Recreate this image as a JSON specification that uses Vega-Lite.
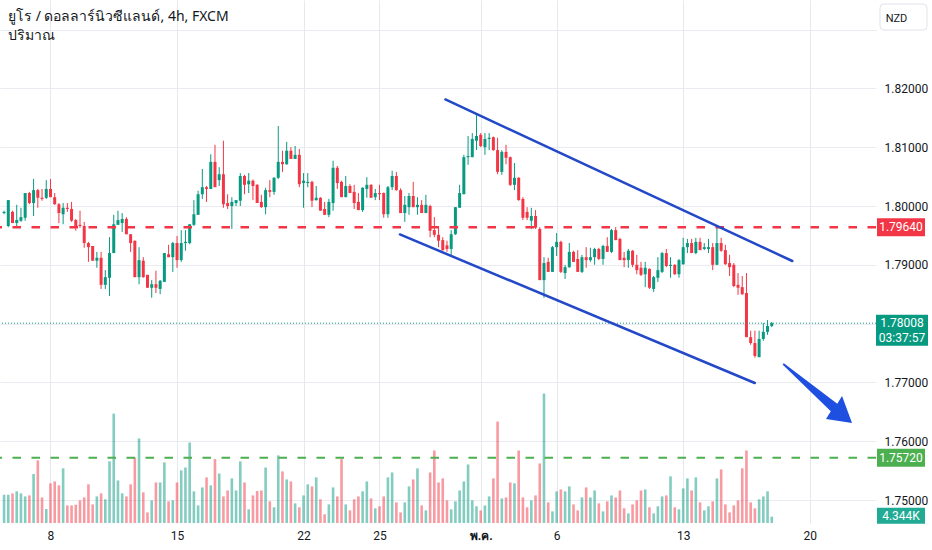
{
  "$schema": "https://vega.github.io/schema/vega-lite/v6.json",
  "width": 876,
  "height": 523,
  "autosize": "none",
  "padding": {"left": 0, "top": 0, "right": 56, "bottom": 27},
  "background": "white",
  "view": {"stroke": null},
  "config": {"font": "Roboto"},
  "title": {
    "text": "ยูโร / ดอลลาร์นิวซีแลนด์, 4h, FXCM",
    "subtitle": "ปริมาณ",
    "anchor": "start",
    "frame": "group",
    "orient": "top",
    "offset": -43,
    "dx": 8,
    "font": "Noto Sans",
    "fontSize": 14,
    "fontWeight": "normal",
    "color": "#131722",
    "subtitleFont": "Noto Sans",
    "subtitleFontSize": 14,
    "subtitleColor": "#131722",
    "subtitlePadding": 5
  },
  "datasets": {
    "candles": [
      {"i":0,"o":1.7988,"h":1.7992,"l":1.7986,"c":1.7990,"v":19500},
      {"i":1,"o":1.7966,"h":1.8010,"l":1.7964,"c":1.8010,"v":19500},
      {"i":2,"o":1.7990,"h":1.7992,"l":1.7971,"c":1.7971,"v":20400},
      {"i":3,"o":1.7971,"h":1.8002,"l":1.7963,"c":1.7976,"v":21800},
      {"i":4,"o":1.7975,"h":1.7997,"l":1.7973,"c":1.7981,"v":20400},
      {"i":5,"o":1.7980,"h":1.8022,"l":1.7975,"c":1.8022,"v":18300},
      {"i":6,"o":1.8022,"h":1.8024,"l":1.8003,"c":1.8005,"v":19000},
      {"i":7,"o":1.8005,"h":1.8046,"l":1.7983,"c":1.8027,"v":33700},
      {"i":8,"o":1.8027,"h":1.8029,"l":1.7997,"c":1.8014,"v":43100},
      {"i":9,"o":1.8014,"h":1.8029,"l":1.8009,"c":1.8012,"v":17600},
      {"i":10,"o":1.8014,"h":1.8044,"l":1.8012,"c":1.8029,"v":9600},
      {"i":11,"o":1.8029,"h":1.8046,"l":1.8015,"c":1.8015,"v":27300},
      {"i":12,"o":1.8015,"h":1.8022,"l":1.8002,"c":1.8003,"v":28600},
      {"i":13,"o":1.8003,"h":1.8005,"l":1.7971,"c":1.7988,"v":25900},
      {"i":14,"o":1.7986,"h":1.8005,"l":1.7969,"c":1.7997,"v":37600},
      {"i":15,"o":1.7997,"h":1.8005,"l":1.7990,"c":1.7995,"v":12100},
      {"i":16,"o":1.7995,"h":1.8007,"l":1.7973,"c":1.7975,"v":12100},
      {"i":17,"o":1.7976,"h":1.7978,"l":1.7958,"c":1.7966,"v":12600},
      {"i":18,"o":1.7968,"h":1.7992,"l":1.7963,"c":1.7966,"v":15600},
      {"i":19,"o":1.7966,"h":1.7973,"l":1.7929,"c":1.7937,"v":17600},
      {"i":20,"o":1.7937,"h":1.7939,"l":1.7905,"c":1.7930,"v":26600},
      {"i":21,"o":1.7932,"h":1.7932,"l":1.7907,"c":1.7907,"v":12800},
      {"i":22,"o":1.7907,"h":1.7922,"l":1.7895,"c":1.7912,"v":18300},
      {"i":23,"o":1.7912,"h":1.7922,"l":1.7859,"c":1.7866,"v":20400},
      {"i":24,"o":1.7866,"h":1.7891,"l":1.7859,"c":1.7879,"v":16300},
      {"i":25,"o":1.7878,"h":1.7947,"l":1.7847,"c":1.7920,"v":42400},
      {"i":26,"o":1.7920,"h":1.7985,"l":1.7920,"c":1.7969,"v":75300},
      {"i":27,"o":1.7968,"h":1.7992,"l":1.7968,"c":1.7976,"v":29300},
      {"i":28,"o":1.7971,"h":1.7988,"l":1.7956,"c":1.7978,"v":20400},
      {"i":29,"o":1.7978,"h":1.7981,"l":1.7952,"c":1.7952,"v":18300},
      {"i":30,"o":1.7952,"h":1.7952,"l":1.7922,"c":1.7937,"v":26600},
      {"i":31,"o":1.7941,"h":1.7941,"l":1.7879,"c":1.7879,"v":45100},
      {"i":32,"o":1.7879,"h":1.7930,"l":1.7867,"c":1.7908,"v":58200},
      {"i":33,"o":1.7907,"h":1.7913,"l":1.7878,"c":1.7879,"v":21100},
      {"i":34,"o":1.7883,"h":1.7883,"l":1.7861,"c":1.7861,"v":7300},
      {"i":35,"o":1.7861,"h":1.7874,"l":1.7844,"c":1.7867,"v":15600},
      {"i":36,"o":1.7867,"h":1.7890,"l":1.7852,"c":1.7861,"v":27900},
      {"i":37,"o":1.7859,"h":1.7874,"l":1.7850,"c":1.7873,"v":27900},
      {"i":38,"o":1.7871,"h":1.7920,"l":1.7871,"c":1.7920,"v":41700},
      {"i":39,"o":1.7918,"h":1.7934,"l":1.7913,"c":1.7913,"v":14900},
      {"i":40,"o":1.7913,"h":1.7939,"l":1.7888,"c":1.7937,"v":15600},
      {"i":41,"o":1.7937,"h":1.7949,"l":1.7895,"c":1.7908,"v":27900},
      {"i":42,"o":1.7908,"h":1.7959,"l":1.7905,"c":1.7937,"v":36200},
      {"i":43,"o":1.7937,"h":1.7959,"l":1.7924,"c":1.7939,"v":38200},
      {"i":44,"o":1.7937,"h":1.7969,"l":1.7935,"c":1.7969,"v":55400},
      {"i":45,"o":1.7968,"h":1.8010,"l":1.7966,"c":1.7986,"v":21800},
      {"i":46,"o":1.7985,"h":1.8026,"l":1.7985,"c":1.8020,"v":12100},
      {"i":47,"o":1.8020,"h":1.8063,"l":1.8012,"c":1.8032,"v":24500},
      {"i":48,"o":1.8032,"h":1.8034,"l":1.8007,"c":1.8029,"v":31400},
      {"i":49,"o":1.8029,"h":1.8088,"l":1.8029,"c":1.8075,"v":25900},
      {"i":50,"o":1.8075,"h":1.8104,"l":1.8032,"c":1.8032,"v":44000},
      {"i":51,"o":1.8044,"h":1.8066,"l":1.8034,"c":1.8054,"v":34100},
      {"i":52,"o":1.8054,"h":1.8111,"l":1.7997,"c":1.8003,"v":18300},
      {"i":53,"o":1.8005,"h":1.8020,"l":1.7995,"c":1.8000,"v":22400},
      {"i":54,"o":1.8000,"h":1.8015,"l":1.7961,"c":1.8007,"v":30700},
      {"i":55,"o":1.8005,"h":1.8010,"l":1.8000,"c":1.8010,"v":22400},
      {"i":56,"o":1.8009,"h":1.8056,"l":1.8000,"c":1.8051,"v":42400},
      {"i":57,"o":1.8051,"h":1.8053,"l":1.8020,"c":1.8036,"v":27900},
      {"i":58,"o":1.8037,"h":1.8056,"l":1.8022,"c":1.8043,"v":9400},
      {"i":59,"o":1.8043,"h":1.8045,"l":1.8010,"c":1.8034,"v":19000},
      {"i":60,"o":1.8036,"h":1.8037,"l":1.8005,"c":1.8005,"v":22000},
      {"i":61,"o":1.8007,"h":1.8019,"l":1.7997,"c":1.7998,"v":22400},
      {"i":62,"o":1.7998,"h":1.8031,"l":1.7986,"c":1.8027,"v":38200},
      {"i":63,"o":1.8027,"h":1.8044,"l":1.8015,"c":1.8024,"v":14900},
      {"i":64,"o":1.8024,"h":1.8049,"l":1.8019,"c":1.8048,"v":10800},
      {"i":65,"o":1.8048,"h":1.8136,"l":1.8046,"c":1.8075,"v":46500},
      {"i":66,"o":1.8075,"h":1.8094,"l":1.8058,"c":1.8071,"v":35500},
      {"i":67,"o":1.8071,"h":1.8109,"l":1.8070,"c":1.8094,"v":30000},
      {"i":68,"o":1.8094,"h":1.8100,"l":1.8080,"c":1.8080,"v":28600},
      {"i":69,"o":1.8080,"h":1.8102,"l":1.8080,"c":1.8087,"v":13500},
      {"i":70,"o":1.8087,"h":1.8097,"l":1.8032,"c":1.8037,"v":10800},
      {"i":71,"o":1.8039,"h":1.8056,"l":1.7997,"c":1.8043,"v":19000},
      {"i":72,"o":1.8039,"h":1.8056,"l":1.8032,"c":1.8041,"v":26600},
      {"i":73,"o":1.8041,"h":1.8043,"l":1.7998,"c":1.8009,"v":25200},
      {"i":74,"o":1.8010,"h":1.8034,"l":1.8009,"c":1.8014,"v":31400},
      {"i":75,"o":1.8014,"h":1.8015,"l":1.7992,"c":1.7992,"v":16300},
      {"i":76,"o":1.7995,"h":1.8007,"l":1.7985,"c":1.7985,"v":6000},
      {"i":77,"o":1.7985,"h":1.8012,"l":1.7981,"c":1.8007,"v":12800},
      {"i":78,"o":1.8005,"h":1.8077,"l":1.7992,"c":1.8065,"v":24500},
      {"i":79,"o":1.8065,"h":1.8068,"l":1.8029,"c":1.8039,"v":18300},
      {"i":80,"o":1.8041,"h":1.8043,"l":1.8015,"c":1.8015,"v":44000},
      {"i":81,"o":1.8015,"h":1.8051,"l":1.8015,"c":1.8034,"v":12800},
      {"i":82,"o":1.8034,"h":1.8037,"l":1.8022,"c":1.8022,"v":8700},
      {"i":83,"o":1.8024,"h":1.8036,"l":1.7995,"c":1.8005,"v":16300},
      {"i":84,"o":1.8007,"h":1.8022,"l":1.7993,"c":1.7993,"v":18300},
      {"i":85,"o":1.7993,"h":1.8032,"l":1.7990,"c":1.8031,"v":21800},
      {"i":86,"o":1.8029,"h":1.8049,"l":1.8014,"c":1.8036,"v":28600},
      {"i":87,"o":1.8036,"h":1.8037,"l":1.8014,"c":1.8014,"v":16900},
      {"i":88,"o":1.8015,"h":1.8029,"l":1.8010,"c":1.8022,"v":10100},
      {"i":89,"o":1.8022,"h":1.8036,"l":1.8010,"c":1.8020,"v":11500},
      {"i":90,"o":1.8022,"h":1.8023,"l":1.7980,"c":1.7986,"v":18300},
      {"i":91,"o":1.7986,"h":1.8034,"l":1.7980,"c":1.8032,"v":31400},
      {"i":92,"o":1.8032,"h":1.8060,"l":1.8027,"c":1.8051,"v":34800},
      {"i":93,"o":1.8051,"h":1.8058,"l":1.8026,"c":1.8027,"v":14200},
      {"i":94,"o":1.8027,"h":1.8030,"l":1.7988,"c":1.7988,"v":7300},
      {"i":95,"o":1.7988,"h":1.8017,"l":1.7973,"c":1.8002,"v":14200},
      {"i":96,"o":1.7998,"h":1.8022,"l":1.7985,"c":1.8017,"v":25200},
      {"i":97,"o":1.8017,"h":1.8041,"l":1.7998,"c":1.7998,"v":30000},
      {"i":98,"o":1.7998,"h":1.8015,"l":1.7985,"c":1.8002,"v":37600},
      {"i":99,"o":1.8002,"h":1.8010,"l":1.7988,"c":1.7988,"v":12100},
      {"i":100,"o":1.7988,"h":1.8019,"l":1.7988,"c":1.8002,"v":8700},
      {"i":101,"o":1.8000,"h":1.8002,"l":1.7947,"c":1.7958,"v":34800},
      {"i":102,"o":1.7959,"h":1.7981,"l":1.7947,"c":1.7951,"v":49900},
      {"i":103,"o":1.7951,"h":1.7964,"l":1.7930,"c":1.7941,"v":27900},
      {"i":104,"o":1.7942,"h":1.7947,"l":1.7924,"c":1.7925,"v":30700},
      {"i":105,"o":1.7933,"h":1.7941,"l":1.7922,"c":1.7927,"v":15600},
      {"i":106,"o":1.7927,"h":1.7959,"l":1.7917,"c":1.7952,"v":9400},
      {"i":107,"o":1.7952,"h":1.7998,"l":1.7951,"c":1.7998,"v":14900},
      {"i":108,"o":1.7997,"h":1.8036,"l":1.7997,"c":1.8022,"v":22400},
      {"i":109,"o":1.8020,"h":1.8087,"l":1.8020,"c":1.8083,"v":28600},
      {"i":110,"o":1.8083,"h":1.8119,"l":1.8070,"c":1.8085,"v":40300},
      {"i":111,"o":1.8083,"h":1.8124,"l":1.8083,"c":1.8114,"v":15600},
      {"i":112,"o":1.8111,"h":1.8158,"l":1.8095,"c":1.8119,"v":11500},
      {"i":113,"o":1.8121,"h":1.8124,"l":1.8100,"c":1.8102,"v":8700},
      {"i":114,"o":1.8100,"h":1.8124,"l":1.8087,"c":1.8114,"v":12100},
      {"i":115,"o":1.8114,"h":1.8124,"l":1.8095,"c":1.8116,"v":18300},
      {"i":116,"o":1.8117,"h":1.8118,"l":1.8094,"c":1.8095,"v":30700},
      {"i":117,"o":1.8095,"h":1.8116,"l":1.8054,"c":1.8058,"v":69800},
      {"i":118,"o":1.8058,"h":1.8095,"l":1.8053,"c":1.8092,"v":16900},
      {"i":119,"o":1.8092,"h":1.8104,"l":1.8071,"c":1.8082,"v":17600},
      {"i":120,"o":1.8083,"h":1.8084,"l":1.8034,"c":1.8036,"v":27900},
      {"i":121,"o":1.8036,"h":1.8073,"l":1.8027,"c":1.8048,"v":27300},
      {"i":122,"o":1.8048,"h":1.8049,"l":1.8009,"c":1.8010,"v":49900},
      {"i":123,"o":1.8012,"h":1.8015,"l":1.7976,"c":1.7980,"v":17600},
      {"i":124,"o":1.7990,"h":1.7998,"l":1.7976,"c":1.7980,"v":10800},
      {"i":125,"o":1.7975,"h":1.7997,"l":1.7961,"c":1.7983,"v":15600},
      {"i":126,"o":1.7983,"h":1.7993,"l":1.7961,"c":1.7963,"v":19000},
      {"i":127,"o":1.7961,"h":1.7964,"l":1.7874,"c":1.7874,"v":41000},
      {"i":128,"o":1.7874,"h":1.7913,"l":1.7844,"c":1.7903,"v":89100},
      {"i":129,"o":1.7905,"h":1.7912,"l":1.7888,"c":1.7888,"v":14200},
      {"i":130,"o":1.7888,"h":1.7932,"l":1.7888,"c":1.7930,"v":8000},
      {"i":131,"o":1.7930,"h":1.7954,"l":1.7915,"c":1.7939,"v":21800},
      {"i":132,"o":1.7939,"h":1.7941,"l":1.7886,"c":1.7888,"v":23100},
      {"i":133,"o":1.7886,"h":1.7900,"l":1.7876,"c":1.7896,"v":21800},
      {"i":134,"o":1.7896,"h":1.7937,"l":1.7895,"c":1.7922,"v":25200},
      {"i":135,"o":1.7922,"h":1.7924,"l":1.7905,"c":1.7905,"v":12800},
      {"i":136,"o":1.7910,"h":1.7925,"l":1.7888,"c":1.7888,"v":8700},
      {"i":137,"o":1.7888,"h":1.7917,"l":1.7886,"c":1.7913,"v":17600},
      {"i":138,"o":1.7913,"h":1.7930,"l":1.7895,"c":1.7908,"v":24500},
      {"i":139,"o":1.7908,"h":1.7929,"l":1.7905,"c":1.7913,"v":17600},
      {"i":140,"o":1.7913,"h":1.7929,"l":1.7900,"c":1.7927,"v":22400},
      {"i":141,"o":1.7927,"h":1.7929,"l":1.7908,"c":1.7910,"v":13500},
      {"i":142,"o":1.7910,"h":1.7934,"l":1.7900,"c":1.7932,"v":8000},
      {"i":143,"o":1.7932,"h":1.7947,"l":1.7922,"c":1.7922,"v":14900},
      {"i":144,"o":1.7922,"h":1.7961,"l":1.7920,"c":1.7959,"v":19000},
      {"i":145,"o":1.7959,"h":1.7964,"l":1.7942,"c":1.7942,"v":17600},
      {"i":146,"o":1.7944,"h":1.7946,"l":1.7908,"c":1.7908,"v":22400},
      {"i":147,"o":1.7912,"h":1.7922,"l":1.7896,"c":1.7908,"v":10100},
      {"i":148,"o":1.7908,"h":1.7927,"l":1.7895,"c":1.7924,"v":6600},
      {"i":149,"o":1.7924,"h":1.7925,"l":1.7896,"c":1.7900,"v":12800},
      {"i":150,"o":1.7900,"h":1.7917,"l":1.7884,"c":1.7891,"v":15600},
      {"i":151,"o":1.7895,"h":1.7905,"l":1.7881,"c":1.7883,"v":22400},
      {"i":152,"o":1.7884,"h":1.7905,"l":1.7862,"c":1.7895,"v":23100},
      {"i":153,"o":1.7893,"h":1.7894,"l":1.7859,"c":1.7861,"v":10800},
      {"i":154,"o":1.7859,"h":1.7881,"l":1.7854,"c":1.7879,"v":6600},
      {"i":155,"o":1.7878,"h":1.7913,"l":1.7871,"c":1.7891,"v":11500},
      {"i":156,"o":1.7888,"h":1.7922,"l":1.7886,"c":1.7920,"v":18300},
      {"i":157,"o":1.7920,"h":1.7927,"l":1.7896,"c":1.7898,"v":19000},
      {"i":158,"o":1.7898,"h":1.7913,"l":1.7878,"c":1.7900,"v":32100},
      {"i":159,"o":1.7900,"h":1.7901,"l":1.7883,"c":1.7884,"v":10800},
      {"i":160,"o":1.7884,"h":1.7910,"l":1.7878,"c":1.7908,"v":9400},
      {"i":161,"o":1.7901,"h":1.7946,"l":1.7900,"c":1.7930,"v":23800},
      {"i":162,"o":1.7930,"h":1.7944,"l":1.7920,"c":1.7937,"v":30700},
      {"i":163,"o":1.7937,"h":1.7944,"l":1.7920,"c":1.7920,"v":22400},
      {"i":164,"o":1.7920,"h":1.7946,"l":1.7918,"c":1.7939,"v":31400},
      {"i":165,"o":1.7939,"h":1.7946,"l":1.7925,"c":1.7925,"v":14200},
      {"i":166,"o":1.7927,"h":1.7937,"l":1.7925,"c":1.7930,"v":8700},
      {"i":167,"o":1.7927,"h":1.7944,"l":1.7920,"c":1.7930,"v":11500},
      {"i":168,"o":1.7930,"h":1.7937,"l":1.7891,"c":1.7900,"v":14900},
      {"i":169,"o":1.7900,"h":1.7966,"l":1.7900,"c":1.7937,"v":30700},
      {"i":170,"o":1.7937,"h":1.7946,"l":1.7922,"c":1.7924,"v":36900},
      {"i":171,"o":1.7925,"h":1.7934,"l":1.7900,"c":1.7901,"v":12800},
      {"i":172,"o":1.7903,"h":1.7917,"l":1.7881,"c":1.7896,"v":7300},
      {"i":173,"o":1.7900,"h":1.7903,"l":1.7862,"c":1.7864,"v":12100},
      {"i":174,"o":1.7866,"h":1.7886,"l":1.7849,"c":1.7861,"v":15600},
      {"i":175,"o":1.7862,"h":1.7881,"l":1.7849,"c":1.7850,"v":37600},
      {"i":176,"o":1.7852,"h":1.7886,"l":1.7777,"c":1.7777,"v":49900},
      {"i":177,"o":1.7777,"h":1.7788,"l":1.7764,"c":1.7767,"v":14200},
      {"i":178,"o":1.7767,"h":1.7788,"l":1.7742,"c":1.7745,"v":10100},
      {"i":179,"o":1.7743,"h":1.7788,"l":1.7743,"c":1.7774,"v":16300},
      {"i":180,"o":1.7774,"h":1.7801,"l":1.7771,"c":1.7786,"v":18300},
      {"i":181,"o":1.7786,"h":1.7806,"l":1.7781,"c":1.7796,"v":21800},
      {"i":182,"o":1.7796,"h":1.7803,"l":1.7794,"c":1.78008,"v":4344}
    ],
    "channel": [
      {"line": "upper", "i": 104.62, "p": 1.81811},
      {"line": "upper", "i": 186.87, "p": 1.79065},
      {"line": "lower", "i": 93.84, "p": 1.79516},
      {"line": "lower", "i": 177.97, "p": 1.76991}
    ],
    "arrow": [
      {"i": 192.85, "p": 1.76813}
    ]
  },
  "layer": [
    {
      "data": {"name": "candles"},
      "mark": {"type": "rule", "strokeWidth": 1},
      "encoding": {
        "x": {
          "field": "i",
          "type": "quantitative",
          "title": null,
          "scale": {"domain": [0.219, 205.525], "nice": false, "zero": false},
          "axis": {
            "values": [11, 41, 71, 89, 113, 131, 161, 191],
            "labelExpr": "datum.value == 11 ? '8' : datum.value == 41 ? '15' : datum.value == 71 ? '22' : datum.value == 89 ? '25' : datum.value == 113 ? 'พ.ค.' : datum.value == 131 ? '6' : datum.value == 161 ? '13' : '20'",
            "labelFontWeight": {"condition": {"test": "datum.value == 113", "value": "bold"}, "value": "normal"},
            "grid": true,
            "gridColor": "#e6e8ed",
            "gridOpacity": 1,
            "domain": false,
            "ticks": false,
            "labelPadding": 7,
            "labelFontSize": 12,
            "labelColor": "#131722",
            "title": null
          }
        },
        "y": {
          "field": "l",
          "type": "quantitative",
          "scale": {"domain": [1.74611, 1.83502], "nice": false, "zero": false},
          "axis": {
            "orient": "right",
            "values": [1.75, 1.76, 1.77, 1.78, 1.79, 1.8, 1.81, 1.82, 1.83],
            "format": ".5f",
            "labelExpr": "datum.value > 1.825 || abs(datum.value - 1.78) < 0.0001 ? '' : datum.label",
            "grid": true,
            "gridColor": "#e9ebf0",
            "domain": false,
            "ticks": false,
            "labelPadding": 8,
            "labelFontSize": 12,
            "labelColor": "#131722",
            "title": "NZD",
            "titleAngle": 0,
            "titleX": 20,
            "titleY": 18,
            "titleAlign": "center",
            "titleBaseline": "middle",
            "titleFontSize": 11,
            "titleFontWeight": "normal",
            "titleColor": "#131722"
          }
        },
        "y2": {"field": "h"},
        "color": {"condition": {"test": "datum.c >= datum.o", "value": "#089981"}, "value": "#f23645"}
      }
    },
    {
      "data": {"name": "candles"},
      "mark": {"type": "bar", "width": 2.6, "opacity": 0.5},
      "encoding": {
        "x": {"field": "i", "type": "quantitative", "title": null},
        "y": {"field": "v", "type": "quantitative", "scale": {"domain": [0, 360000], "nice": false}, "axis": null},
        "color": {"condition": {"test": "datum.c >= datum.o", "value": "#089981"}, "value": "#f23645"}
      }
    },
    {
      "data": {"name": "candles"},
      "mark": {"type": "bar", "width": 3},
      "encoding": {
        "x": {"field": "i", "type": "quantitative", "title": null},
        "y": {"field": "o", "type": "quantitative", "scale": {"domain": [1.74611, 1.83502], "nice": false, "zero": false}, "axis": null},
        "y2": {"field": "c"},
        "color": {"condition": {"test": "datum.c >= datum.o", "value": "#089981"}, "value": "#f23645"}
      }
    },
    {
      "data": {"values": [{}]},
      "mark": {"type": "rule", "color": "#f23645", "strokeWidth": 2.5, "strokeDash": [8.5, 10.5]},
      "encoding": {"y": {"datum": 1.7964, "type": "quantitative", "scale": {"domain": [1.74611, 1.83502], "nice": false, "zero": false}, "axis": null}}
    },
    {
      "data": {"values": [{}]},
      "mark": {"type": "rule", "color": "#4caf50", "strokeWidth": 2, "strokeDash": [8.5, 10.5]},
      "encoding": {"y": {"datum": 1.7572, "type": "quantitative", "scale": {"domain": [1.74611, 1.83502], "nice": false, "zero": false}, "axis": null}}
    },
    {
      "data": {"values": [{}]},
      "mark": {"type": "rule", "color": "#089981", "strokeWidth": 1, "strokeDash": [1, 2]},
      "encoding": {"y": {"datum": 1.78008, "type": "quantitative", "scale": {"domain": [1.74611, 1.83502], "nice": false, "zero": false}, "axis": null}}
    },
    {
      "data": {"name": "channel"},
      "mark": {"type": "line", "color": "#2348c8", "strokeWidth": 2.5, "strokeCap": "round"},
      "encoding": {
        "x": {"field": "i", "type": "quantitative", "title": null},
        "y": {"field": "p", "type": "quantitative", "scale": {"domain": [1.74611, 1.83502], "nice": false, "zero": false}, "axis": null},
        "detail": {"field": "line", "type": "nominal"}
      }
    },
    {
      "data": {"name": "arrow"},
      "mark": {"type": "point", "shape": "M-1,-0.829L-0.963,-0.863L0.564,0.291L0.7,0.071L0.986,0.843L0.243,0.729L0.379,0.509Z", "size": 4900, "filled": true, "opacity": 1, "color": "#1f4fe0", "strokeWidth": 0},
      "encoding": {
        "x": {"field": "i", "type": "quantitative", "title": null},
        "y": {"field": "p", "type": "quantitative", "scale": {"domain": [1.74611, 1.83502], "nice": false, "zero": false}, "axis": null}
      }
    },
    {
      "data": {"values": [{}]},
      "mark": {"type": "point", "shape": "M-0.83,-0.553L0.83,-0.553Q1,-0.553 1,-0.383L1,0.383Q1,0.553 0.83,0.553L-0.83,0.553Q-1,0.553 -1,0.383L-1,-0.383Q-1,-0.553 -0.83,-0.553Z", "size": 2209, "filled": false, "opacity": 1, "stroke": "#e0e3eb", "strokeWidth": 1, "x": {"expr": "width + 27.5"}},
      "encoding": {"y": {"datum": 1.83213, "type": "quantitative", "scale": {"domain": [1.74611, 1.83502], "nice": false, "zero": false}, "axis": null}}
    },
    {
      "data": {"values": [{}]},
      "mark": {"type": "point", "shape": "M-1,-0.375L1,-0.375L1,0.375L-1,0.375Z", "size": 2304, "filled": true, "opacity": 1, "color": "#f23645", "x": {"expr": "width + 25"}},
      "encoding": {"y": {"datum": 1.7964, "type": "quantitative", "scale": {"domain": [1.74611, 1.83502], "nice": false, "zero": false}, "axis": null}}
    },
    {
      "data": {"values": [{}]},
      "mark": {"type": "text", "text": "1.79640", "color": "white", "fontSize": 12, "align": "center", "baseline": "middle", "x": {"expr": "width + 25"}},
      "encoding": {"y": {"datum": 1.7964, "type": "quantitative", "scale": {"domain": [1.74611, 1.83502], "nice": false, "zero": false}, "axis": null}}
    },
    {
      "data": {"values": [{}]},
      "mark": {"type": "point", "shape": "M-1,-0.596L1,-0.596L1,0.596L-1,0.596Z", "size": 2704, "filled": true, "opacity": 1, "color": "#089981", "x": {"expr": "width + 26"}, "yOffset": 7},
      "encoding": {"y": {"datum": 1.78008, "type": "quantitative", "scale": {"domain": [1.74611, 1.83502], "nice": false, "zero": false}, "axis": null}}
    },
    {
      "data": {"values": [{}]},
      "mark": {"type": "text", "text": "1.78008", "color": "white", "fontSize": 12, "align": "center", "baseline": "middle", "x": {"expr": "width + 26"}},
      "encoding": {"y": {"datum": 1.78008, "type": "quantitative", "scale": {"domain": [1.74611, 1.83502], "nice": false, "zero": false}, "axis": null}}
    },
    {
      "data": {"values": [{}]},
      "mark": {"type": "text", "text": "03:37:57", "color": "white", "fontSize": 12, "align": "center", "baseline": "middle", "x": {"expr": "width + 26"}, "yOffset": 15},
      "encoding": {"y": {"datum": 1.78008, "type": "quantitative", "scale": {"domain": [1.74611, 1.83502], "nice": false, "zero": false}, "axis": null}}
    },
    {
      "data": {"values": [{}]},
      "mark": {"type": "point", "shape": "M-1,-0.375L1,-0.375L1,0.375L-1,0.375Z", "size": 2304, "filled": true, "opacity": 1, "color": "#4caf50", "x": {"expr": "width + 25"}},
      "encoding": {"y": {"datum": 1.7572, "type": "quantitative", "scale": {"domain": [1.74611, 1.83502], "nice": false, "zero": false}, "axis": null}}
    },
    {
      "data": {"values": [{}]},
      "mark": {"type": "text", "text": "1.75720", "color": "white", "fontSize": 12, "align": "center", "baseline": "middle", "x": {"expr": "width + 25"}},
      "encoding": {"y": {"datum": 1.7572, "type": "quantitative", "scale": {"domain": [1.74611, 1.83502], "nice": false, "zero": false}, "axis": null}}
    },
    {
      "data": {"values": [{}]},
      "mark": {"type": "point", "shape": "M-1,-0.333L1,-0.333L1,0.333L-1,0.333Z", "size": 2304, "filled": true, "opacity": 1, "color": "#22ab94", "x": {"expr": "width + 25"}, "yOffset": -1},
      "encoding": {"y": {"datum": 4344, "type": "quantitative", "scale": {"domain": [0, 360000], "nice": false}, "axis": null}}
    },
    {
      "data": {"values": [{}]},
      "mark": {"type": "text", "text": "4.344K", "color": "white", "fontSize": 12, "align": "center", "baseline": "middle", "x": {"expr": "width + 25"}, "yOffset": -1},
      "encoding": {"y": {"datum": 4344, "type": "quantitative", "scale": {"domain": [0, 360000], "nice": false}, "axis": null}}
    }
  ],
  "resolve": {"scale": {"y": "independent"}, "axis": {"y": "independent"}}
}
